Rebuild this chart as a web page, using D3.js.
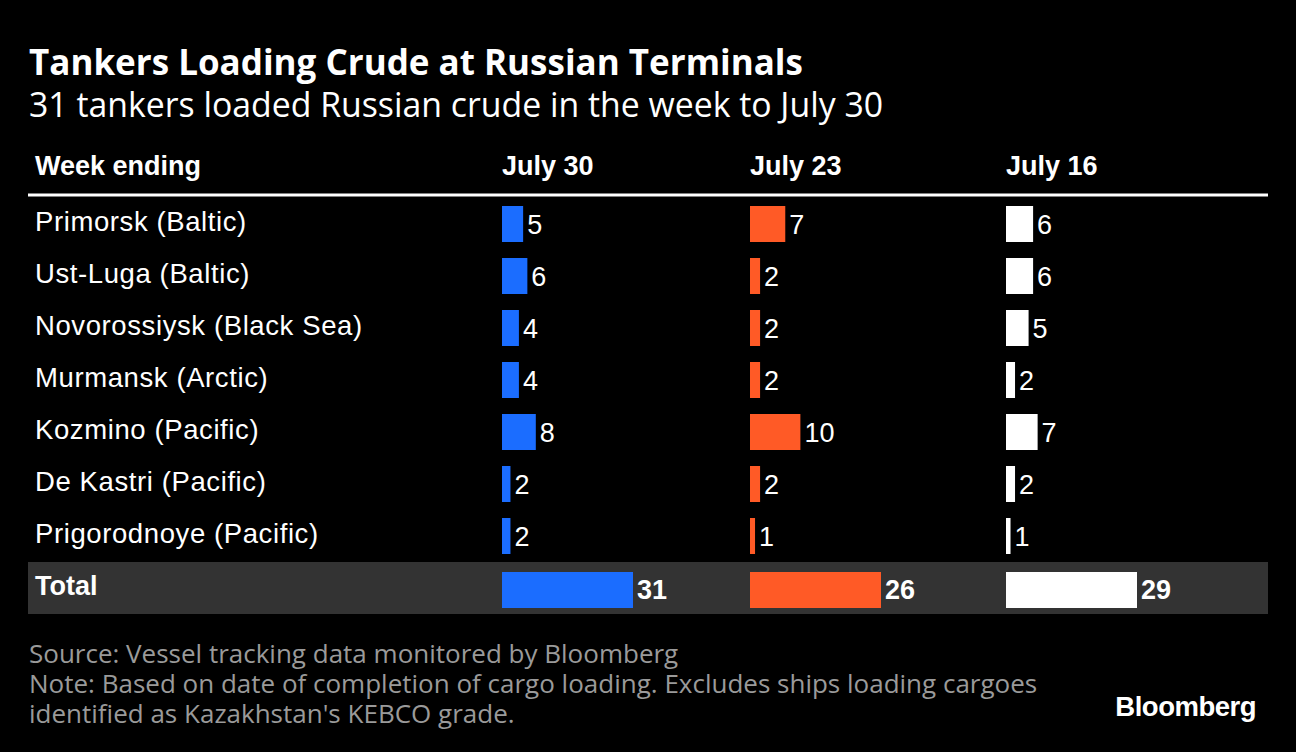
<!DOCTYPE html>
<html><head><meta charset="utf-8">
<script src="https://cdn.jsdelivr.net/npm/d3@7"></script>
<style>body{margin:0;background:#000}</style></head>
<body><script>
const terminals = ["Primorsk (Baltic)", "Ust-Luga (Baltic)", "Novorossiysk (Black Sea)", "Murmansk (Arctic)", "Kozmino (Pacific)", "De Kastri (Pacific)", "Prigorodnoye (Pacific)"];
const weeks = ["July 30", "July 23", "July 16"];
const july30 = [5, 6, 4, 4, 8, 2, 2];
const july23 = [7, 2, 2, 2, 10, 2, 1];
const july16 = [6, 6, 5, 2, 7, 2, 1];
const colors = ["#1b6dff", "#ff5a26", "#ffffff"];

const W = 1296, H = 752;
const svg = d3.select("body").append("svg").attr("width", W).attr("height", H)
    .style("font-family", "'Liberation Sans', Arial, sans-serif");
svg.append("rect").attr("width", W).attr("height", H).attr("fill", "#000");

svg.append("text").attr("x", 29).attr("y", 75).attr("fill", "#fff")
    .attr("font-family", "'Open Sans', sans-serif").attr("font-weight", 700).attr("font-size", 35)
    .text("Tankers Loading Crude at Russian Terminals");
svg.append("text").attr("x", 29).attr("y", 117).attr("fill", "#fff")
    .attr("font-family", "'Open Sans', sans-serif").attr("font-size", 33.8)
    .text("31 tankers loaded Russian crude in the week to July 30");

// header
svg.append("text").attr("x", 35).attr("y", 175).attr("fill", "#fff")
    .attr("font-weight", 700).attr("font-size", 27).text("Week ending");
const colX = [502, 750, 1006];
weeks.forEach((w, i) => svg.append("text").attr("x", colX[i]).attr("y", 175).attr("fill", "#fff")
    .attr("font-weight", 700).attr("font-size", 27).text(w));
svg.append("line").attr("x1", 28).attr("x2", 1268).attr("y1", 195).attr("y2", 195)
    .attr("stroke", "#fff").attr("stroke-width", 3);

const rows = terminals.concat(["Total"]);
const y = d3.scaleBand().domain(rows).range([198, 614]).paddingInner(0);
svg.append("rect").attr("x", 28).attr("y", y("Total")).attr("width", 1240)
    .attr("height", y.bandwidth()).attr("fill", "#333");

terminals.forEach(t => svg.append("text").attr("x", 35).attr("y", y(t) + 33)
    .attr("fill", "#fff").attr("font-size", 27.5).attr("letter-spacing", 0.6).text(t));
svg.append("text").attr("x", 35).attr("y", y("Total") + 33)
    .attr("fill", "#fff").attr("font-weight", 700).attr("font-size", 27).text("Total");

[july30, july23, july16].forEach((vals, i) => {
    const total = d3.sum(vals);
    const x = d3.scaleLinear().domain([0, total]).range([0, 131]);
    const data = vals.map((v, j) => ({k: terminals[j], v})).concat([{k: "Total", v: total}]);
    const g = svg.append("g").attr("transform", `translate(${colX[i]},0)`);
    g.selectAll("rect").data(data).enter().append("rect")
        .attr("x", 0).attr("y", d => y(d.k) + (d.k === "Total" ? 10 : 8))
        .attr("width", d => x(d.v)).attr("height", 36).attr("fill", colors[i]);
    g.selectAll("text").data(data).enter().append("text")
        .attr("x", d => x(d.v) + 4).attr("y", d => y(d.k) + (d.k === "Total" ? 37 : 36))
        .attr("fill", "#fff").attr("font-size", 27)
        .attr("font-weight", d => d.k === "Total" ? 700 : 400).text(d => d.v);
});

const notes = ["Source: Vessel tracking data monitored by Bloomberg",
    "Note: Based on date of completion of cargo loading. Excludes ships loading cargoes",
    "identified as Kazakhstan's KEBCO grade."];
notes.forEach((n, i) => svg.append("text").attr("x", 29).attr("y", 663 + i * 30)
    .attr("fill", "#9a9a9a").attr("font-family", "'Open Sans', sans-serif").attr("font-size", 26).text(n));
svg.append("text").attr("x", 1256).attr("y", 716).attr("text-anchor", "end").attr("fill", "#fff")
    .attr("font-weight", 700).attr("font-size", 27.5).attr("letter-spacing", -0.5).text("Bloomberg");
</script></body></html>
